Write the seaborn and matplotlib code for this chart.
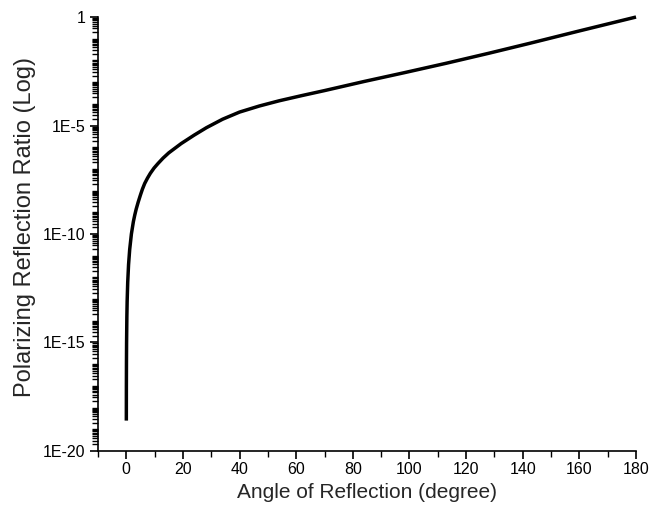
import numpy as np
import pandas as pd
import matplotlib
matplotlib.use("Agg")
import matplotlib.pyplot as plt
import matplotlib.ticker as mticker
import seaborn as sns

# Data (angle in degrees, log10 of ratio)
angle = [0.013, 0.03, 0.06, 0.1, 0.2, 0.3, 0.5, 0.8, 1.2, 1.8, 2.5, 3.0, 3.5, 4.2,
         5.0, 5.7, 6.5, 7.5, 8.5, 9.8, 11.2, 13, 15, 19.4, 24, 28.3, 34, 40, 47,
         54, 62, 70, 84, 98, 113, 128, 142.5, 160, 170, 180]
log_ratio = [-18.6, -17.05, -15.9, -15.02, -13.82, -13.11, -12.23, -11.41, -10.71,
             -10.0, -9.43, -9.12, -8.85, -8.53, -8.2, -7.93, -7.67, -7.42, -7.2,
             -6.96, -6.75, -6.5, -6.26, -5.83, -5.44, -5.1, -4.71, -4.38, -4.10,
             -3.86, -3.62, -3.39, -2.97, -2.57, -2.13, -1.67, -1.21, -0.64, -0.32, 0.0]
ratio = [10.0 ** v for v in log_ratio]

x_major = [0, 20, 40, 60, 80, 100, 120, 140, 160, 180]
y_major_exp = [0, -5, -10, -15, -20]
y_major_labels = ["1", "1E-5", "1E-10", "1E-15", "1E-20"]

sns.set_theme(style="ticks")
plt.rcParams["font.family"] = ["Liberation Sans", "DejaVu Sans"]

fig = plt.figure(figsize=(6.51, 5.16), dpi=100)
ax = fig.add_axes([0.1505, 0.126, 0.977 - 0.1505, 0.967 - 0.126])

df = pd.DataFrame({"angle": angle, "ratio": ratio})
sns.lineplot(data=df, x="angle", y="ratio", ax=ax, color="black", linewidth=2.5,
             clip_on=False, solid_capstyle="butt")

ax.set_yscale("log")
ax.set_xlim(-10, 180)
ax.set_ylim(1e-20, 1)

ax.set_xticks(x_major)
ax.xaxis.set_minor_locator(mticker.FixedLocator(list(range(-10, 181, 20))))
ax.set_yticks([10.0 ** e for e in y_major_exp])
ax.set_yticklabels(y_major_labels)
minor_y = []
for d in range(-20, 0):
    for s in range(1, 10):
        if d in y_major_exp and s == 1:
            continue
        minor_y.append(s * 10.0 ** d)
ax.yaxis.set_minor_locator(mticker.FixedLocator(minor_y))
ax.yaxis.set_minor_formatter(mticker.NullFormatter())

ax.tick_params(axis="both", which="major", direction="out", length=6, width=1.2,
               labelsize=11.5, colors="black")
ax.tick_params(axis="both", which="minor", direction="out", length=4, width=1.0,
               colors="black")
ax.tick_params(axis="x", which="major", pad=2)
ax.tick_params(axis="y", which="major", pad=3)

for side in ["top", "right"]:
    ax.spines[side].set_visible(False)
for side in ["left", "bottom"]:
    ax.spines[side].set_linewidth(1.2)
    ax.spines[side].set_color("black")

ax.set_xlabel("Angle of Reflection (degree)", fontsize=15, labelpad=4)
ax.set_ylabel("Polarizing Reflection Ratio (Log)", fontsize=17)
ax.yaxis.set_label_coords(-0.115, 0.516)
ax.grid(False)

fig.savefig("out.png", dpi=100)
